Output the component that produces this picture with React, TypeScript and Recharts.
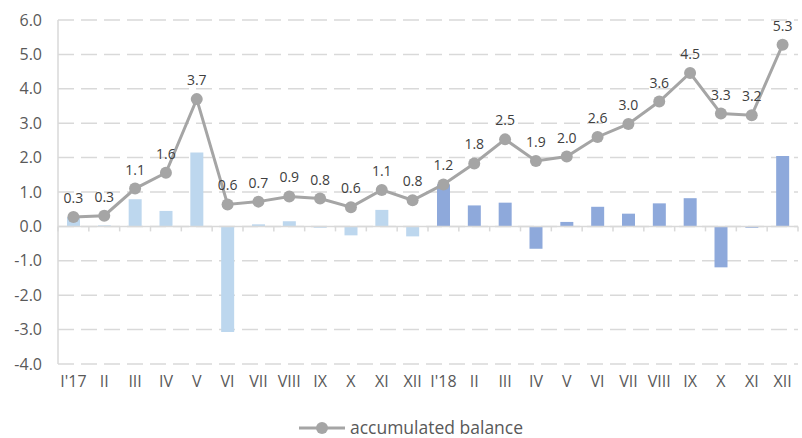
import {
  ComposedChart,
  Bar,
  Line,
  Cell,
  XAxis,
  YAxis,
  CartesianGrid,
  ReferenceLine,
  LabelList,
  Legend,
} from "recharts";

const months = [
  "I'17", "II", "III", "IV", "V", "VI", "VII", "VIII", "IX", "X", "XI", "XII",
  "I'18", "II", "III", "IV", "V", "VI", "VII", "VIII", "IX", "X", "XI", "XII",
];
const years = [
  2017, 2017, 2017, 2017, 2017, 2017, 2017, 2017, 2017, 2017, 2017, 2017,
  2018, 2018, 2018, 2018, 2018, 2018, 2018, 2018, 2018, 2018, 2018, 2018,
];
const monthlyChange = [
  0.27, 0.03, 0.79, 0.45, 2.15, -3.07, 0.06, 0.15, -0.04, -0.26, 0.48, -0.29,
  1.22, 0.61, 0.69, -0.65, 0.13, 0.57, 0.37, 0.67, 0.82, -1.19, -0.04, 2.05,
];
const accumulated = [
  0.27, 0.31, 1.1, 1.56, 3.7, 0.64, 0.72, 0.87, 0.81, 0.56, 1.06, 0.76,
  1.22, 1.83, 2.53, 1.9, 2.03, 2.6, 2.98, 3.63, 4.46, 3.28, 3.23, 5.28,
];
const yTicks = [-4, -3, -2, -1, 0, 1, 2, 3, 4, 5, 6];

const barColors: Record<number, string> = { 2017: "#BDD7EE", 2018: "#8EA9DB" };

const data = months.map((month, i) => ({
  month,
  year: years[i],
  change: monthlyChange[i],
  balance: accumulated[i],
}));

const font = "'Open Sans', 'DejaVu Sans', sans-serif";

// zero line with Excel-like category boundary ticks
const ZeroAxis = (props: any) => {
  const { x1, y1, x2 } = props;
  const n = months.length;
  const step = (x2 - x1) / n;
  return (
    <g>
      <line x1={x1} y1={y1} x2={x2} y2={y1} stroke="#D9D9D9" strokeWidth={1.5} />
      {Array.from({ length: n + 1 }, (_, k) => (
        <line
          key={k}
          x1={x1 + step * k}
          x2={x1 + step * k}
          y1={y1}
          y2={y1 + 5}
          stroke="#D9D9D9"
          strokeWidth={1.5}
        />
      ))}
    </g>
  );
};

const LegendContent = () => (
  <div
    style={{
      height: 44,
      display: "flex",
      justifyContent: "center",
      alignItems: "flex-end",
      paddingLeft: 24,
      fontFamily: font,
      fontSize: 17.5,
      color: "#595959",
    }}
  >
    <div style={{ display: "flex", alignItems: "center", lineHeight: "21px" }}>
      <svg width={46} height={14} style={{ marginRight: 5 }}>
        <line x1={0} y1={7} x2={46} y2={7} stroke="#A5A5A5" strokeWidth={3} />
        <circle cx={23} cy={7} r={6} fill="#A5A5A5" />
      </svg>
      <span>accumulated balance</span>
    </div>
  </div>
);

export default function App() {
  return (
    <div style={{ position: "absolute", left: 0, top: 0, background: "#fff" }}>
      <ComposedChart
        width={802}
        height={438}
        data={data}
        margin={{ top: 20, right: 4, bottom: 0, left: 0 }}
        barSize={13}
      >
        <CartesianGrid
          vertical={false}
          stroke="#D9D9D9"
          strokeWidth={1.5}
          strokeDasharray="16 7"
        />
        <XAxis
          dataKey="month"
          height={30}
          axisLine={false}
          tickLine={false}
          interval={0}
          tickMargin={6}
          tick={{ fill: "#595959", fontSize: 16, fontFamily: font }}
        />
        <YAxis
          width={58}
          domain={[-4, 6]}
          ticks={yTicks}
          interval={0}
          tickFormatter={(v: number) => v.toFixed(1)}
          axisLine={{ stroke: "#D9D9D9", strokeWidth: 1.5 }}
          tickLine={false}
          tickMargin={10}
          tick={{ fill: "#595959", fontSize: 16, fontFamily: font }}
        />
        <Legend verticalAlign="bottom" height={44} content={<LegendContent />} />
        <Bar dataKey="change" legendType="none" isAnimationActive={false}>
          {data.map((d, i) => (
            <Cell key={i} fill={barColors[d.year]} />
          ))}
        </Bar>
        <ReferenceLine y={0} shape={ZeroAxis} />
        <Line
          dataKey="balance"
          name="accumulated balance"
          stroke="#A5A5A5"
          strokeWidth={3}
          dot={{ r: 6, fill: "#A5A5A5", stroke: "none" }}
          activeDot={false}
          isAnimationActive={false}
        >
          <LabelList
            dataKey="balance"
            position="top"
            offset={14}
            formatter={(v: any) => Number(v).toFixed(1)}
            style={{ fill: "#404040", fontSize: 14, fontFamily: font }}
          />
        </Line>
      </ComposedChart>
    </div>
  );
}
